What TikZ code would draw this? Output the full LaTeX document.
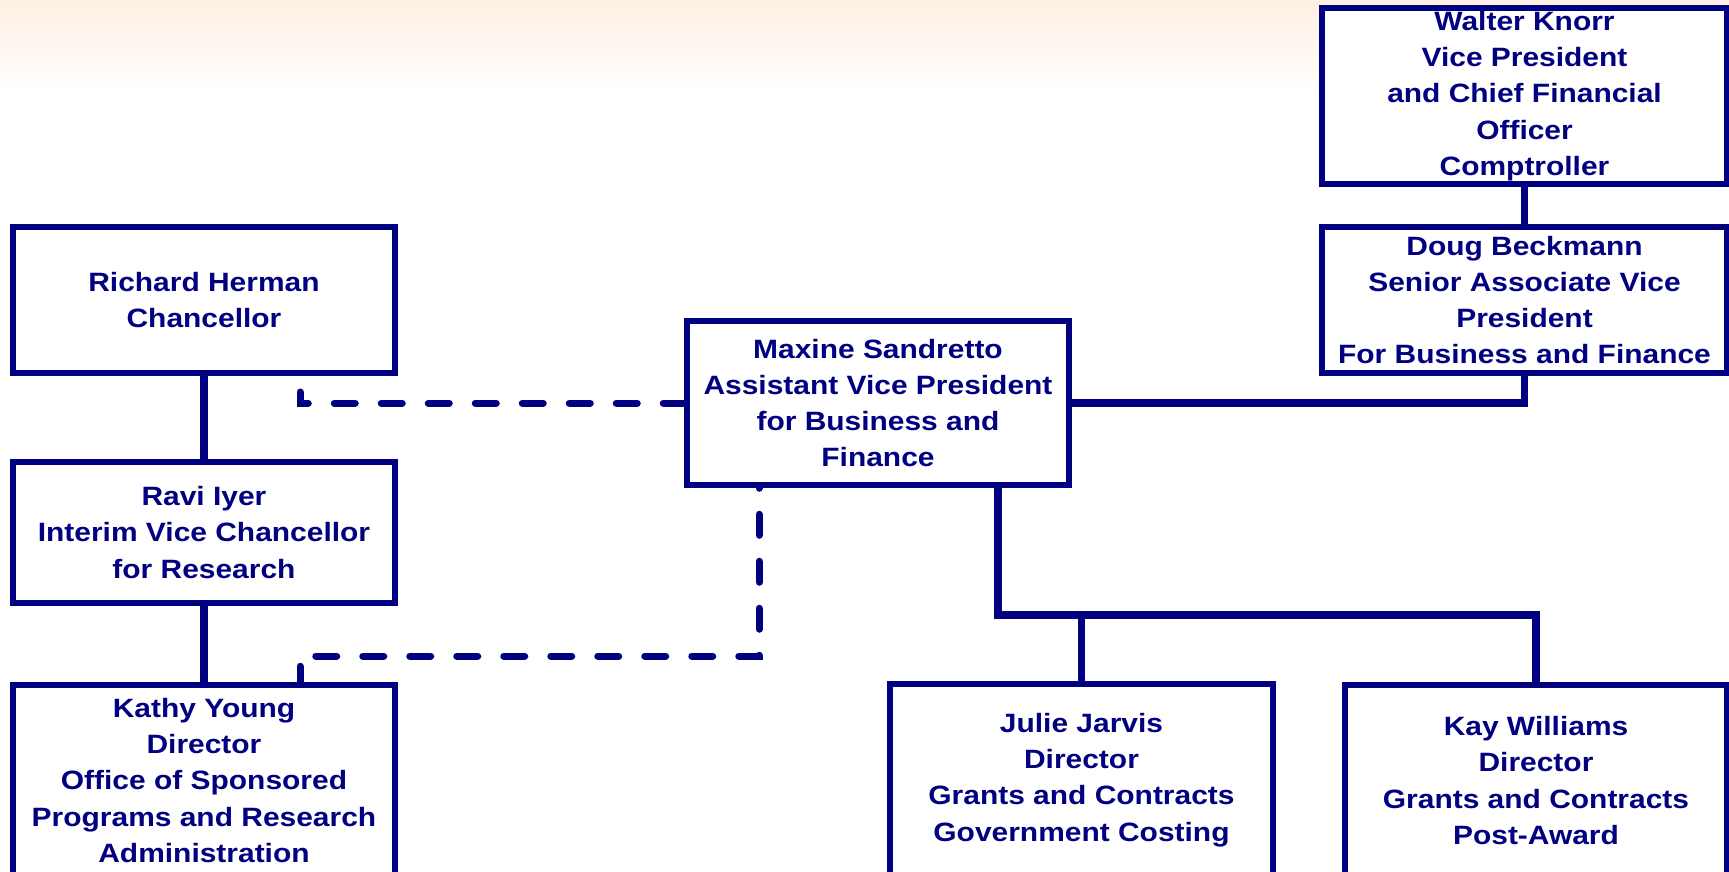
\documentclass[tikz,border=0pt]{standalone}
\usepackage{fontspec}
\setmainfont{Liberation Sans}[FakeStretch=1.13]
\usepackage{tikz}
\definecolor{orgnavy}{HTML}{000080}
\definecolor{peach}{HTML}{FEF0E2}
\tikzset{
  orgbox/.style={draw=orgnavy, line width=5.5pt, fill=white, align=center, inner sep=0pt,
    text=orgnavy, font=\fontsize{26.5}{36.3}\selectfont\bfseries},
  link/.style={draw=orgnavy, line width=7.5pt},
  dotlink/.style={draw=orgnavy, line width=7pt, line cap=round, dash pattern=on 21pt off 26pt},
}

\begin{document}
\begin{tikzpicture}[x=1pt, y=-1pt]
        \useasboundingbox (0,0) rectangle (1729,871);
        \clip (0,0) rectangle (1729,871);

        % Background wash
        \fill[white] (0,0) rectangle (1729,871);
        \shade[top color=peach, bottom color=white] (0,0) rectangle (1729,95);

        % Boxes
        \node[orgbox, minimum width=405pt, minimum height=176pt] (knorr) at (1524.5,96)
            {Walter Knorr\\Vice President\\and Chief Financial\\Officer\\Comptroller};
        \node[orgbox, minimum width=405pt, minimum height=146pt] (beckmann) at (1524.5,300)
            {Doug Beckmann\\Senior Associate Vice\\President\\For Business and Finance};
        \node[orgbox, minimum width=382pt, minimum height=146pt] (herman) at (204,300)
            {Richard Herman\\Chancellor};
        \node[orgbox, minimum width=382pt, minimum height=141pt] (iyer) at (204,532.5)
            {Ravi Iyer\\Interim Vice Chancellor\\for Research};
        \node[orgbox, minimum width=382pt, minimum height=191pt] (young) at (204,780.5)
            {Kathy Young\\Director\\Office of Sponsored\\Programs and Research\\Administration};
        \node[orgbox, minimum width=382pt, minimum height=164pt] (sandretto) at (878,403)
            {Maxine Sandretto\\Assistant Vice President\\for Business and\\Finance};
        \node[orgbox, minimum width=383pt, minimum height=192pt] (jarvis) at (1081.5,780)
            {Julie Jarvis\\Director\\Grants and Contracts\\Government Costing};
        \node[orgbox, minimum width=382pt, minimum height=191pt] (williams) at (1536,780.5)
            {Kay Williams\\Director\\Grants and Contracts\\Post-Award};

        % Solid lines
        \coordinate (bus) at (998,615);
        \draw[link] (knorr) -- (beckmann);
        \draw[link] (herman) -- (iyer);
        \draw[link] (iyer) -- (young);
        \draw[link] (sandretto.east) -| (beckmann.south);
        \draw[link] (sandretto.south -| bus) -- (bus) -| (williams.north);
        \draw[link] (jarvis.north) -- (jarvis.north |- bus);

        % Dashed lines
        \coordinate (dashA) at (300,392);
        \coordinate (dashB) at (759,656);
        \draw[dotlink] (sandretto.west) -| (dashA);
        \draw[dotlink, dash phase=5pt] ([xshift=96pt]young.north) |- (dashB) -- (sandretto.south -| dashB);
\end{tikzpicture}
\end{document}
